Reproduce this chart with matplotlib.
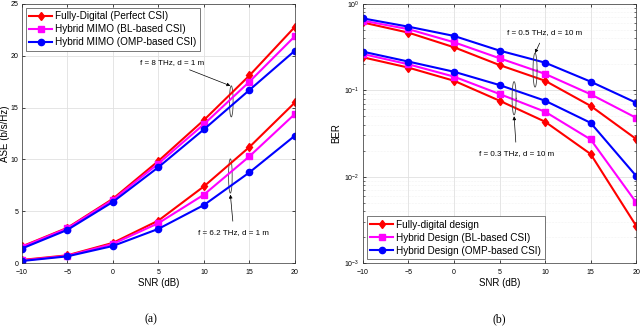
import numpy as np
import matplotlib.pyplot as plt
from matplotlib.patches import Ellipse

plt.rcParams['font.family'] = ['Liberation Sans', 'DejaVu Sans']

snr = [-10, -5, 0, 5, 10, 15, 20]

# (a) ASE, f = 8 THz
ase_fd_8 = [1.6, 3.4, 6.2, 9.85, 13.8, 18.1, 22.8]
ase_bl_8 = [1.55, 3.35, 6.1, 9.6, 13.4, 17.5, 21.9]
ase_omp_8 = [1.4, 3.2, 5.9, 9.25, 12.9, 16.7, 20.5]
# (a) ASE, f = 6.2 THz
ase_fd_62 = [0.3, 0.75, 1.95, 4.1, 7.4, 11.2, 15.5]
ase_bl_62 = [0.25, 0.7, 1.85, 3.85, 6.6, 10.3, 14.4]
ase_omp_62 = [0.2, 0.65, 1.65, 3.3, 5.6, 8.75, 12.3]

# (b) BER, f = 0.5 THz
ber_fd_05 = [0.61, 0.465, 0.315, 0.196, 0.129, 0.066, 0.0273]
ber_bl_05 = [0.64, 0.51, 0.36, 0.235, 0.155, 0.09, 0.048]
ber_omp_05 = [0.68, 0.545, 0.426, 0.288, 0.209, 0.126, 0.0718]
# (b) BER, f = 0.3 THz
ber_fd_03 = [0.241, 0.183, 0.129, 0.0758, 0.0433, 0.0183, 0.0027]
ber_bl_03 = [0.263, 0.2, 0.144, 0.0906, 0.0565, 0.027, 0.00504]
ber_omp_03 = [0.28, 0.215, 0.164, 0.115, 0.0758, 0.042, 0.0102]

RED, MAG, BLUE = '#ff0000', '#ff00ff', '#0000ff'
lw, ms = 1.5, 4.5

fig = plt.figure(figsize=(6.4, 3.26), dpi=100)
ax1 = fig.add_axes([0.034, 0.193, 0.427, 0.795])
ax2 = fig.add_axes([0.567, 0.193, 0.427, 0.795])

def style(ax):
    ax.grid(True, which='major', color='#e0e0e0', lw=0.6)
    ax.tick_params(direction='in', top=True, right=True, labelsize=5, length=2.5, width=0.5)
    ax.tick_params(axis='x', pad=4)
    ax.tick_params(axis='y', pad=2.5)
    ax.tick_params(which='minor', direction='in', top=True, right=True, length=1.5, width=0.4)
    for s in ax.spines.values():
        s.set_linewidth(0.5)
        s.set_color('#333333')
    ax.set_axisbelow(True)

arrow = dict(arrowstyle='-|>', lw=0.5, color='black', mutation_scale=5, shrinkB=0)

# ---- (a) ----
ax1.plot(snr, ase_fd_8, '-d', color=RED, lw=lw, ms=ms, label='Fully-Digital (Perfect CSI)')
ax1.plot(snr, ase_bl_8, '-s', color=MAG, lw=lw, ms=ms - 0.7, label='Hybrid MIMO (BL-based CSI)')
ax1.plot(snr, ase_omp_8, '-o', color=BLUE, lw=lw, ms=ms, label='Hybrid MIMO (OMP-based CSI)')
ax1.plot(snr, ase_fd_62, '-d', color=RED, lw=lw, ms=ms)
ax1.plot(snr, ase_bl_62, '-s', color=MAG, lw=lw, ms=ms - 0.7)
ax1.plot(snr, ase_omp_62, '-o', color=BLUE, lw=lw, ms=ms)
ax1.set_xlim(-10, 20)
ax1.set_ylim(0, 25)
ax1.set_xticks(np.arange(-10, 21, 5))
ax1.set_yticks(np.arange(0, 26, 5))
style(ax1)
ax1.set_xlabel('SNR (dB)', fontsize=7, labelpad=2)
ax1.set_ylabel('ASE (b/s/Hz)', fontsize=7)
ax1.yaxis.set_label_coords(-0.042, 0.5)
ax1.add_patch(Ellipse((13, 15.6), 0.4, 3.0, fill=False, ec='#444444', lw=0.6))
ax1.add_patch(Ellipse((12.9, 8.4), 0.4, 3.3, fill=False, ec='#444444', lw=0.6))
ax1.annotate('f = 8 THz, d = 1 m', xy=(12.9, 17.1), xytext=(3.0, 19.3), fontsize=5.8,
             ha='left', va='center', arrowprops=dict(arrow, shrinkA=1))
ax1.annotate('f = 6.2 THz, d = 1 m', xy=(12.9, 6.6), xytext=(9.4, 2.9), fontsize=5.8,
             ha='left', va='center', arrowprops=dict(arrow, shrinkA=4))
leg1 = ax1.legend(loc='upper left', fontsize=7.2, handlelength=2.3, handletextpad=0.3,
                  borderpad=0.35, labelspacing=0.3, fancybox=False, edgecolor='#444444',
                  framealpha=1, borderaxespad=0.4)
leg1.get_frame().set_linewidth(0.5)

# ---- (b) ----
ax2.semilogy(snr, ber_fd_05, '-d', color=RED, lw=lw, ms=ms, label='Fully-digital design')
ax2.semilogy(snr, ber_bl_05, '-s', color=MAG, lw=lw, ms=ms - 0.7, label='Hybrid Design (BL-based CSI)')
ax2.semilogy(snr, ber_omp_05, '-o', color=BLUE, lw=lw, ms=ms, label='Hybrid Design (OMP-based CSI)')
ax2.semilogy(snr, ber_fd_03, '-d', color=RED, lw=lw, ms=ms)
ax2.semilogy(snr, ber_bl_03, '-s', color=MAG, lw=lw, ms=ms - 0.7)
ax2.semilogy(snr, ber_omp_03, '-o', color=BLUE, lw=lw, ms=ms)
ax2.set_xlim(-10, 20)
ax2.set_ylim(1e-3, 1)
ax2.set_xticks(np.arange(-10, 21, 5))
style(ax2)
ax2.grid(True, which='minor', color='#e8e8e8', lw=0.4, ls=':')
ax2.set_xlabel('SNR (dB)', fontsize=7, labelpad=2)
ax2.set_ylabel('BER', fontsize=7, labelpad=2)
# ellipses on the log axis
t = np.linspace(0, 2 * np.pi, 100)
for xc, ylo, yhi in [(8.9, 0.109, 0.27), (6.6, 0.052, 0.126)]:
    lc, lh = (np.log10(ylo) + np.log10(yhi)) / 2, (np.log10(yhi) - np.log10(ylo)) / 2
    ax2.plot(xc + 0.22 * np.cos(t), 10 ** (lc + lh * np.sin(t)), color='#444444', lw=0.6)
ax2.annotate('f = 0.5 THz, d = 10 m', xy=(8.9, 0.27), xytext=(5.8, 0.46), fontsize=5.8,
             ha='left', va='center', arrowprops=dict(arrow, shrinkA=3))
ax2.annotate('f = 0.3 THz, d = 10 m', xy=(6.6, 0.05), xytext=(2.75, 0.0183), fontsize=5.8,
             ha='left', va='center', arrowprops=dict(arrow, shrinkA=4))
leg2 = ax2.legend(loc='lower left', fontsize=7.2, handlelength=2.3, handletextpad=0.3,
                  borderpad=0.35, labelspacing=0.3, fancybox=False, edgecolor='#444444',
                  framealpha=1, borderaxespad=0.4)
leg2.get_frame().set_linewidth(0.5)

fig.text(0.236, 0.01, '(a)', fontsize=8.5, family='Liberation Serif', ha='center')
fig.text(0.78, 0.01, '(b)', fontsize=8.5, family='Liberation Serif', ha='center')

fig.savefig('out.png', dpi=100)
